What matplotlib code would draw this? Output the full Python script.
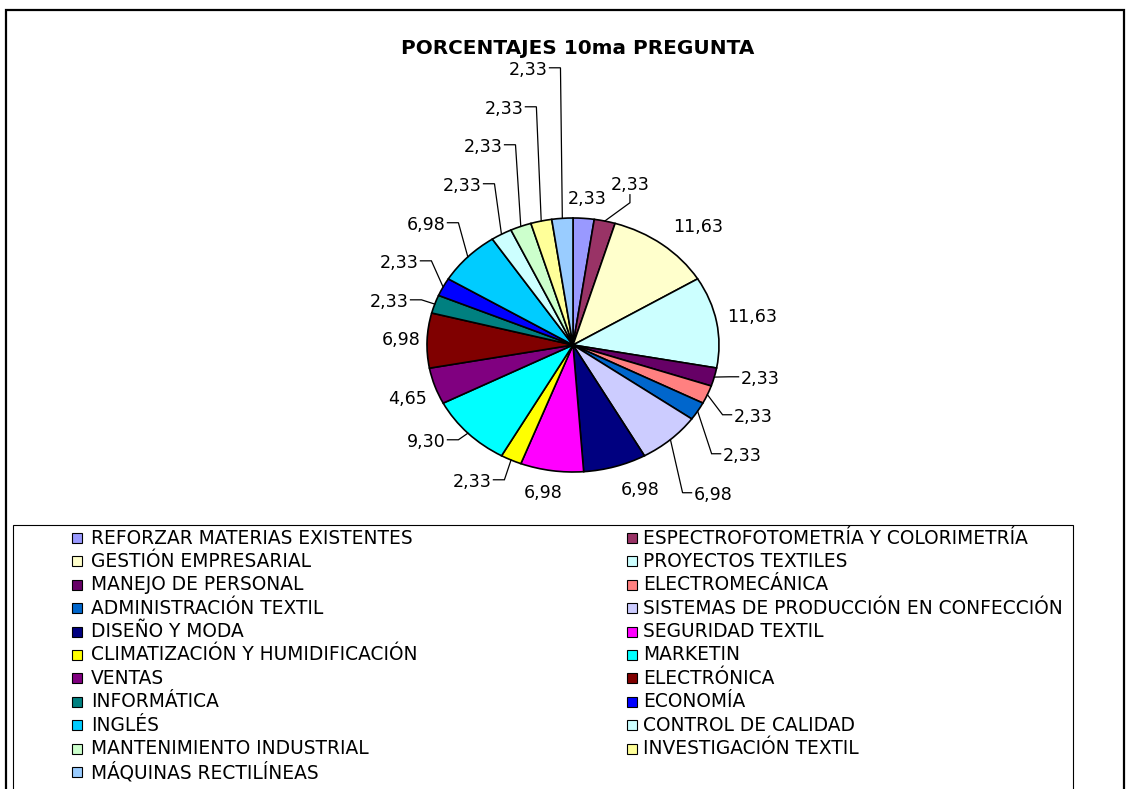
import matplotlib
matplotlib.use('Agg')
import matplotlib.pyplot as plt
import numpy as np
from matplotlib.patches import Rectangle

# ---------------- data ----------------
categories = [
    "REFORZAR MATERIAS EXISTENTES", "ESPECTROFOTOMETRÍA Y COLORIMETRÍA",
    "GESTIÓN EMPRESARIAL", "PROYECTOS TEXTILES",
    "MANEJO DE PERSONAL", "ELECTROMECÁNICA",
    "ADMINISTRACIÓN TEXTIL", "SISTEMAS DE PRODUCCIÓN EN CONFECCIÓN",
    "DISEÑO Y MODA", "SEGURIDAD TEXTIL",
    "CLIMATIZACIÓN Y HUMIDIFICACIÓN", "MARKETIN",
    "VENTAS", "ELECTRÓNICA",
    "INFORMÁTICA", "ECONOMÍA",
    "INGLÉS", "CONTROL DE CALIDAD",
    "MANTENIMIENTO INDUSTRIAL", "INVESTIGACIÓN TEXTIL",
    "MÁQUINAS RECTILÍNEAS",
]
values = [2.33, 2.33, 11.63, 11.63, 2.33, 2.33, 2.33, 6.98, 6.98, 6.98,
          2.33, 9.30, 4.65, 6.98, 2.33, 2.33, 6.98, 2.33, 2.33, 2.33, 2.33]
colors = ["#9999FF", "#993366", "#FFFFCC", "#CCFFFF", "#660066", "#FF8080",
          "#0066CC", "#CCCCFF", "#000080", "#FF00FF", "#FFFF00", "#00FFFF",
          "#800080", "#800000", "#008080", "#0000FF", "#00CCFF", "#CCFFFF",
          "#CCFFCC", "#FFFF99", "#99CCFF"]
title = "PORCENTAJES 10ma PREGUNTA"

# ---------------- layout ----------------
W, H = 1131, 789
DPI = 100
CX, CY = 573, 345          # pie centre (px, from top)
RX, RY = 146, 127          # pie radii (px)

# label centres in pie-radius units, and leader style
label_pos = [(0.096, 1.150), (0.390, 1.262), (0.856, 0.930), (1.226, 0.222),
             (1.281, -0.266), (1.233, -0.565), (1.158, -0.872), (0.959, -1.179),
             (0.459, -1.140), (-0.205, -1.164), (-0.692, -1.077), (-1.007, -0.762),
             (-1.130, -0.423), (-1.178, 0.041), (-1.260, 0.340), (-1.192, 0.647),
             (-1.007, 0.947), (-0.760, 1.254), (-0.616, 1.561), (-0.473, 1.860),
             (-0.308, 2.167)]
leader = ['', 'B', '', '', 'R', 'R', 'R', 'R', '', '', 'L', 'L', '', '',
          'L', 'L', 'L', 'L', 'L', 'L', 'L']

fig = plt.figure(figsize=(W / DPI, H / DPI), dpi=DPI)
ax = fig.add_axes([0, 0, 1, 1])

wedges, _ = ax.pie(values, colors=colors, startangle=90, counterclock=False,
                   wedgeprops=dict(edgecolor='black', linewidth=1.2))
ax.set_aspect('auto')
ax.set_xlim(-CX / RX, (W - CX) / RX)
ax.set_ylim(-(H - CY) / RY, CY / RY)
ax.axis('off')

fig.text(0.5 * (400 + 755) / W, 1 - 49 / H, title, ha='center', va='center',
         fontsize=14.4, fontweight='bold', family='DejaVu Sans')

texts = []
for v, (lx, ly) in zip(values, label_pos):
    t = ax.text(lx, ly, f"{v:.2f}".replace('.', ','), ha='center', va='center',
                fontsize=12.6, family='DejaVu Sans', color='black')
    texts.append(t)

fig.canvas.draw()
renderer = fig.canvas.get_renderer()
inv = ax.transData.inverted()
for w, t, kind in zip(wedges, texts, leader):
    if not kind:
        continue
    mid = np.deg2rad(0.5 * (w.theta1 + w.theta2))
    ex, ey = np.cos(mid), np.sin(mid)
    bb = t.get_window_extent(renderer)
    ym = 0.5 * (bb.y0 + bb.y1) + 2
    xm = 0.5 * (bb.x0 + bb.x1)
    if kind == 'L':
        p0 = (bb.x1 + 2, ym); p1 = (bb.x1 + 13, ym)
    elif kind == 'R':
        p0 = (bb.x0 - 2, ym); p1 = (bb.x0 - 11, ym)
    else:
        p0 = (xm, bb.y0 - 1); p1 = (xm, bb.y0 - 9)
    d0 = inv.transform(p0); d1 = inv.transform(p1)
    ax.plot([d0[0], d1[0], ex], [d0[1], d1[1], ey], color='black', lw=0.9,
            solid_joinstyle='miter')

# ---------------- frames ----------------
def fx(x):
    return x / W

def fy(y):
    return 1 - y / H

fig.add_artist(Rectangle((fx(6), fy(800)), fx(1124) - fx(6), fy(10) - fy(800),
                         transform=fig.transFigure, fill=False, ec='black', lw=1.6))
fig.add_artist(Rectangle((fx(13), fy(800)), fx(1073) - fx(13), fy(525) - fy(800),
                         transform=fig.transFigure, fill=False, ec='black', lw=0.8))

# ---------------- legend (row-major, two columns) ----------------
marker_x = [72, 627]
text_x = [91, 643]
for i, (cat, col) in enumerate(zip(categories, colors)):
    r, c = divmod(i, 2)
    yc = 538 + r * 23.4
    fig.add_artist(Rectangle((fx(marker_x[c]), fy(yc + 5)), 10 / W, 10 / H,
                             transform=fig.transFigure, fc=col, ec='black', lw=0.8))
    fig.text(fx(text_x[c]), fy(yc), cat, ha='left', va='center',
             fontsize=13.4, family='DejaVu Sans')

fig.savefig('out.png', dpi=DPI)
